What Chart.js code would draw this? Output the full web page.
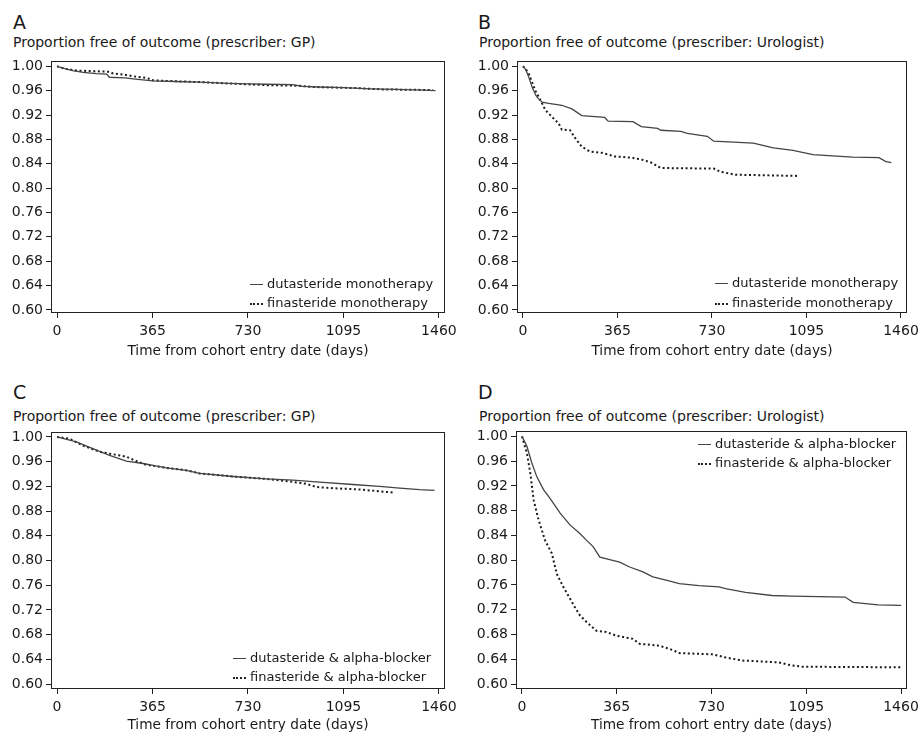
<!DOCTYPE html>
<html>
<head>
<meta charset="utf-8">
<script src="https://cdn.jsdelivr.net/npm/chart.js@4.4.1/dist/chart.umd.min.js"></script>
<style>
  body { margin: 0; background: #fff; font-family: 'DejaVu Sans', sans-serif; color: #1a1a1a; }
  #page { position: relative; width: 924px; height: 737px; overflow: hidden; }
  .letter { position: absolute; font-size: 19px; line-height: 22px; }
  .ytitle { position: absolute; font-size: 14px; line-height: 16px; white-space: nowrap; }
  canvas { position: absolute; }
  .leg { position: absolute; font-size: 13px; line-height: 16px; white-space: nowrap; }
  .leg span { display: inline-block; width: 13px; margin-right: 4px; vertical-align: middle; }
  .solid { border-top: 1.5px solid #444; }
  .dotted { border-top: 2px dotted #222; }
</style>
</head>
<body>
<div id="page">
  <div class="letter" style="left:13px;top:11px">A</div>
  <div class="ytitle" style="left:13px;top:34px">Proportion free of outcome (prescriber: GP)</div>
  <canvas id="chartA" width="462" height="318" style="left:0;top:50px"></canvas>
  <div class="leg" style="left:250px;top:276px"><span class="solid"></span>dutasteride monotherapy</div>
  <div class="leg" style="left:250px;top:295px"><span class="dotted"></span>finasteride monotherapy</div>

  <div class="letter" style="left:478px;top:11px">B</div>
  <div class="ytitle" style="left:479px;top:34px">Proportion free of outcome (prescriber: Urologist)</div>
  <canvas id="chartB" width="462" height="318" style="left:462px;top:50px"></canvas>
  <div class="leg" style="left:715px;top:275px"><span class="solid"></span>dutasteride monotherapy</div>
  <div class="leg" style="left:715px;top:295px"><span class="dotted"></span>finasteride monotherapy</div>

  <div class="letter" style="left:13px;top:381px">C</div>
  <div class="ytitle" style="left:13px;top:408px">Proportion free of outcome (prescriber: GP)</div>
  <canvas id="chartC" width="462" height="317" style="left:0;top:420px"></canvas>
  <div class="leg" style="left:233px;top:650px"><span class="solid"></span>dutasteride &amp; alpha-blocker</div>
  <div class="leg" style="left:233px;top:669px"><span class="dotted"></span>finasteride &amp; alpha-blocker</div>

  <div class="letter" style="left:478px;top:381px">D</div>
  <div class="ytitle" style="left:479px;top:408px">Proportion free of outcome (prescriber: Urologist)</div>
  <canvas id="chartD" width="462" height="317" style="left:462px;top:420px"></canvas>
  <div class="leg" style="left:698px;top:436px"><span class="solid"></span>dutasteride &amp; alpha-blocker</div>
  <div class="leg" style="left:698px;top:455px"><span class="dotted"></span>finasteride &amp; alpha-blocker</div>
</div>
<script>
const xTicks = [0, 365, 730, 1095, 1460];
const yTicks = [0.60, 0.64, 0.68, 0.72, 0.76, 0.80, 0.84, 0.88, 0.92, 0.96, 1.00];

// A: GP, monotherapy
const gpMonoDutDays = [0, 30, 60, 100, 150, 190, 200, 260, 300, 365, 450, 550, 650, 730, 800, 900, 940, 1000, 1095, 1200, 1300, 1400, 1447];
const gpMonoDutSurv = [1.000, 0.996, 0.993, 0.990, 0.988, 0.987, 0.982, 0.981, 0.979, 0.976, 0.975, 0.974, 0.972, 0.971, 0.9705, 0.970, 0.967, 0.966, 0.965, 0.963, 0.962, 0.961, 0.960];
const gpMonoFinDays = [0, 30, 74, 200, 215, 260, 300, 341, 367, 418, 545, 673, 800, 927, 978, 1157, 1246, 1437];
const gpMonoFinSurv = [1.000, 0.996, 0.993, 0.991, 0.988, 0.986, 0.983, 0.981, 0.977, 0.976, 0.974, 0.9715, 0.969, 0.968, 0.966, 0.964, 0.962, 0.961];

// B: Urologist, monotherapy
const uroMonoDutDays = [0, 10, 20, 36, 50, 61, 74, 100, 150, 189, 227, 316, 329, 425, 457, 520, 533, 610, 635, 712, 737, 890, 967, 1043, 1120, 1273, 1375, 1400, 1423];
const uroMonoDutSurv = [1.000, 0.995, 0.985, 0.965, 0.952, 0.946, 0.941, 0.939, 0.936, 0.930, 0.919, 0.916, 0.910, 0.909, 0.901, 0.898, 0.895, 0.893, 0.890, 0.885, 0.877, 0.874, 0.866, 0.862, 0.855, 0.851, 0.850, 0.844, 0.842];
const uroMonoFinDays = [0, 10, 23, 48, 68, 87, 112, 138, 150, 182, 202, 227, 259, 304, 355, 418, 457, 495, 533, 737, 762, 820, 1062];
const uroMonoFinSurv = [1.000, 0.996, 0.987, 0.960, 0.944, 0.928, 0.917, 0.906, 0.896, 0.895, 0.882, 0.868, 0.860, 0.858, 0.852, 0.850, 0.847, 0.842, 0.833, 0.832, 0.827, 0.822, 0.820];

// C: GP, with alpha-blocker
const gpComboDutDays = [0, 74, 125, 201, 265, 329, 367, 418, 494, 545, 673, 800, 902, 1004, 1131, 1233, 1310, 1386, 1443];
const gpComboDutSurv = [1.000, 0.992, 0.983, 0.970, 0.961, 0.957, 0.954, 0.950, 0.946, 0.941, 0.936, 0.932, 0.930, 0.927, 0.923, 0.920, 0.917, 0.9146, 0.9135];
const gpComboFinDays = [0, 48, 99, 163, 201, 265, 303, 341, 418, 494, 545, 673, 800, 889, 953, 991, 1055, 1157, 1284];
const gpComboFinSurv = [1.000, 0.997, 0.986, 0.976, 0.973, 0.968, 0.961, 0.955, 0.950, 0.946, 0.941, 0.936, 0.932, 0.928, 0.924, 0.919, 0.917, 0.915, 0.910];

// D: Urologist, with alpha-blocker
const uroComboDutDays = [0, 19, 38, 57, 83, 108, 147, 185, 223, 249, 274, 300, 338, 376, 415, 466, 504, 555, 606, 682, 759, 784, 861, 963, 1040, 1244, 1276, 1372, 1461];
const uroComboDutSurv = [1.000, 0.984, 0.957, 0.935, 0.914, 0.900, 0.876, 0.857, 0.843, 0.832, 0.822, 0.805, 0.801, 0.797, 0.789, 0.781, 0.773, 0.768, 0.762, 0.759, 0.757, 0.754, 0.748, 0.743, 0.742, 0.7405, 0.732, 0.728, 0.727];
const uroComboFinDays = [0, 19, 32, 45, 64, 89, 115, 134, 159, 185, 204, 223, 249, 287, 325, 364, 427, 453, 529, 580, 606, 733, 784, 848, 989, 1027, 1078, 1467];
const uroComboFinSurv = [1.000, 0.973, 0.941, 0.897, 0.865, 0.832, 0.811, 0.778, 0.757, 0.738, 0.724, 0.711, 0.700, 0.686, 0.684, 0.678, 0.673, 0.665, 0.662, 0.655, 0.650, 0.648, 0.643, 0.638, 0.635, 0.631, 0.628, 0.627];

const textColor = '#1a1a1a';
const tickFont = { family: 'DejaVu Sans', size: 14 };
const titleFont = { family: 'DejaVu Sans', size: 13.7 };

function pts(days, surv) {
  return days.map((d, i) => ({ x: d, y: surv[i] }));
}

const frame = {
  id: 'frame',
  afterDraw(chart) {
    const { ctx, chartArea: a } = chart;
    ctx.save();
    ctx.strokeStyle = '#222';
    ctx.lineWidth = 1;
    ctx.strokeRect(Math.round(a.left) + 0.5, Math.round(a.top) + 0.5,
      Math.round(a.right - a.left) - 1, Math.round(a.bottom - a.top) - 1);
    ctx.restore();
  }
};

function makePanel(id, dut, fin, p) {
  const grid = { display: true, drawOnChartArea: false, drawTicks: true, tickLength: 5, color: '#222', lineWidth: 1 };
  new Chart(document.getElementById(id), {
    type: 'line',
    data: {
      datasets: [
        { data: dut, borderColor: '#444', borderWidth: 1.3, pointRadius: 0, fill: false, tension: 0 },
        { data: fin, borderColor: '#1a1a1a', borderWidth: 2, borderDash: [2, 2.6], pointRadius: 0, fill: false, tension: 0 }
      ]
    },
    options: {
      responsive: false,
      animation: false,
      events: [],
      layout: { padding: { top: p.top, right: p.right, left: 0, bottom: 0 } },
      plugins: { legend: { display: false }, tooltip: { enabled: false } },
      scales: {
        x: {
          type: 'linear', min: -23, max: 1483,
          afterBuildTicks: s => { s.ticks = xTicks.map(v => ({ value: v })); },
          afterFit: s => { s.height = p.xh; },
          ticks: { padding: 5, color: textColor, font: tickFont, autoSkip: false, maxRotation: 0, callback: v => String(v) },
          grid: grid,
          border: { display: false },
          title: { display: true, text: 'Time from cohort entry date (days)', color: textColor, font: titleFont, padding: { top: 0, bottom: p.tb } }
        },
        y: {
          type: 'linear', min: p.ymin, max: 1.008,
          afterBuildTicks: s => { s.ticks = yTicks.map(v => ({ value: v })); },
          afterFit: s => { s.width = p.yw; },
          ticks: { padding: 3, color: textColor, font: tickFont, autoSkip: false, callback: v => v.toFixed(2) },
          grid: grid,
          border: { display: false }
        }
      }
    },
    plugins: [frame]
  });
}

makePanel('chartA', pts(gpMonoDutDays, gpMonoDutSurv), pts(gpMonoFinDays, gpMonoFinSurv),
  { top: 7, right: 17, yw: 51, xh: 55, tb: 8, ymin: 0.595 });
makePanel('chartB', pts(uroMonoDutDays, uroMonoDutSurv), pts(uroMonoFinDays, uroMonoFinSurv),
  { top: 7, right: 14, yw: 55, xh: 55, tb: 8, ymin: 0.595 });
makePanel('chartC', pts(gpComboDutDays, gpComboDutSurv), pts(gpComboFinDays, gpComboFinSurv),
  { top: 12, right: 16, yw: 51, xh: 48, tb: 3, ymin: 0.592 });
makePanel('chartD', pts(uroComboDutDays, uroComboDutSurv), pts(uroComboFinDays, uroComboFinSurv),
  { top: 11, right: 12, yw: 54, xh: 48, tb: 3, ymin: 0.592 });
</script>
</body>
</html>
